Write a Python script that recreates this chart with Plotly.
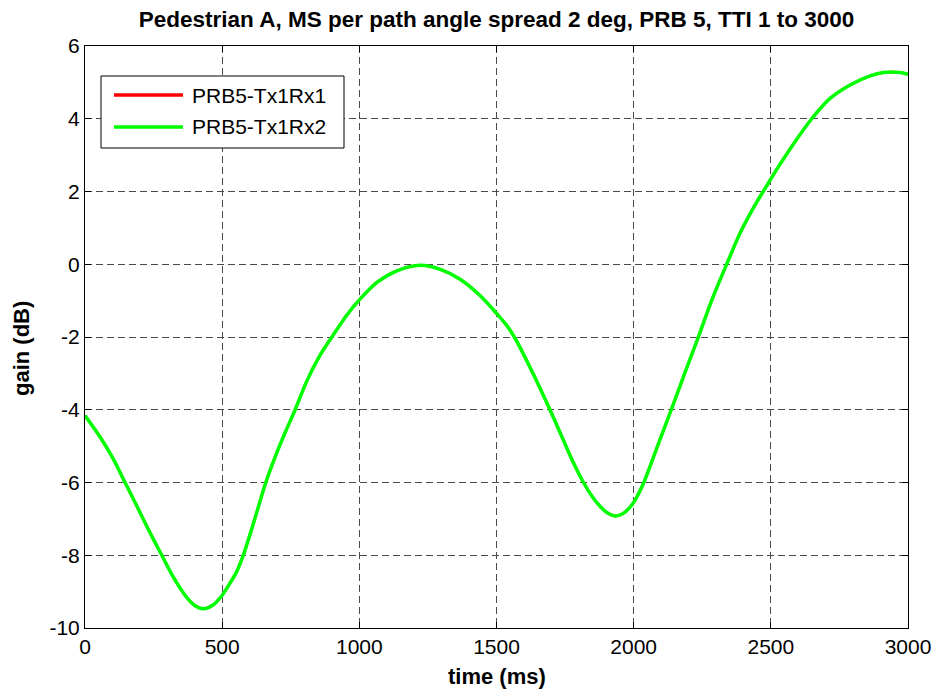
import plotly.graph_objects as go

# time (ms)
time_ms = [0, 55, 103, 146, 188, 225, 250, 280, 322, 370, 400, 431, 468, 500, 530, 553,
           577, 613, 659, 693, 730, 766, 808, 857, 900, 954, 1000, 1064, 1137, 1222, 1295,
           1367, 1440, 1500, 1537, 1565, 1622, 1695, 1744, 1780, 1817, 1850, 1878, 1905,
           1932, 1960, 1990, 2010, 2037, 2087, 2137, 2186, 2236, 2284, 2339, 2388, 2448,
           2478, 2521, 2582, 2649, 2716, 2789, 2862, 2910, 2971, 3000]

# gain (dB) for PRB5-Tx1Rx1
gain_rx1 = [-4.16, -4.75, -5.35, -6.0, -6.63, -7.2, -7.57, -8.0, -8.6, -9.15, -9.38, -9.47,
            -9.36, -9.1, -8.75, -8.45, -8.0, -7.15, -6.0, -5.3, -4.62, -4.0, -3.22, -2.5,
            -2.0, -1.4, -0.98, -0.5, -0.18, -0.03, -0.14, -0.41, -0.86, -1.35, -1.68, -2.0,
            -2.83, -4.0, -4.84, -5.45, -6.0, -6.4, -6.66, -6.84, -6.92, -6.86, -6.65, -6.42,
            -6.0, -5.0, -4.0, -3.0, -2.0, -1.0, 0.0, 0.86, 1.7, 2.07, 2.6, 3.3, 4.0, 4.56,
            4.93, 5.18, 5.27, 5.27, 5.22]

# gain (dB) for PRB5-Tx1Rx2
gain_rx2 = [-4.16, -4.75, -5.35, -6.0, -6.63, -7.2, -7.57, -8.0, -8.6, -9.15, -9.38, -9.47,
            -9.36, -9.1, -8.75, -8.45, -8.0, -7.15, -6.0, -5.3, -4.62, -4.0, -3.22, -2.5,
            -2.0, -1.4, -0.98, -0.5, -0.18, -0.03, -0.14, -0.41, -0.86, -1.35, -1.68, -2.0,
            -2.83, -4.0, -4.84, -5.45, -6.0, -6.4, -6.66, -6.84, -6.92, -6.86, -6.65, -6.42,
            -6.0, -5.0, -4.0, -3.0, -2.0, -1.0, 0.0, 0.86, 1.7, 2.07, 2.6, 3.3, 4.0, 4.56,
            4.93, 5.18, 5.27, 5.27, 5.22]

x_ticks = [0, 500, 1000, 1500, 2000, 2500, 3000]
y_ticks = [-10, -8, -6, -4, -2, 0, 2, 4, 6]

series_names = ["PRB5-Tx1Rx1", "PRB5-Tx1Rx2"]
series_colors = ["#ff0000", "#00ff00"]

FONT = "Liberation Sans, Arial, Helvetica, sans-serif"

# plot-area geometry (pixels)
W, H = 936, 692
L, R, T, B = 85, 28, 46, 64
PW, PH = W - L - R, H - T - B


def px_to_paper_x(px):
    return (px - L) / PW


def px_to_paper_y(py):
    return (H - B - py) / PH


fig = go.Figure()
fig.add_trace(go.Scatter(x=time_ms, y=gain_rx1, mode="lines", name=series_names[0],
                         line=dict(color=series_colors[0], width=2.5, shape="spline", smoothing=0.8)))
fig.add_trace(go.Scatter(x=time_ms, y=gain_rx2, mode="lines", name=series_names[1],
                         line=dict(color=series_colors[1], width=3.5, shape="spline", smoothing=0.8)))

axis_common = dict(
    showline=True, linecolor="black", linewidth=1, mirror="allticks",
    ticks="inside", ticklen=6, tickcolor="black", tickwidth=1,
    showgrid=True, gridcolor="#4a4a4a", gridwidth=1, griddash="7px,4px",
    zeroline=False, automargin=False,
    tickfont=dict(family=FONT, size=21, color="black"),
)

# manual legend (box, line samples, labels)
shapes = [dict(type="rect", xref="paper", yref="paper",
               x0=px_to_paper_x(101), x1=px_to_paper_x(344),
               y0=px_to_paper_y(148), y1=px_to_paper_y(76),
               line=dict(color="black", width=1), fillcolor="white", layer="above")]
annotations = []
legend_rows_py = [95, 127]
for name, color, py in zip(series_names, series_colors, legend_rows_py):
    shapes.append(dict(type="line", xref="paper", yref="paper",
                       x0=px_to_paper_x(114), x1=px_to_paper_x(183),
                       y0=px_to_paper_y(py), y1=px_to_paper_y(py),
                       line=dict(color=color, width=3.5), layer="above"))
    annotations.append(dict(text=name, xref="paper", yref="paper",
                            x=px_to_paper_x(190), y=px_to_paper_y(py),
                            xanchor="left", yanchor="middle", showarrow=False,
                            font=dict(family=FONT, size=21, color="black")))

# axis titles
annotations.append(dict(text="<b>time (ms)</b>", xref="paper", yref="paper",
                        x=0.5, y=px_to_paper_y(676), xanchor="center", yanchor="middle",
                        showarrow=False, font=dict(family=FONT, size=22, color="black")))
annotations.append(dict(text="<b>gain (dB)</b>", xref="paper", yref="paper",
                        x=px_to_paper_x(22), y=px_to_paper_y(349), xanchor="center", yanchor="middle",
                        textangle=-90, showarrow=False,
                        font=dict(family=FONT, size=22, color="black")))

fig.update_layout(
    width=W, height=H,
    margin=dict(l=L, r=R, t=T, b=B),
    paper_bgcolor="white", plot_bgcolor="white",
    font=dict(family=FONT, color="black"),
    title=dict(text="<b>Pedestrian A, MS per path angle spread 2 deg, PRB 5, TTI 1 to 3000</b>",
               x=(L + W - R) / 2 / W, xanchor="center", y=1 - 19 / H, yanchor="middle",
               font=dict(family=FONT, size=22.5, color="black")),
    xaxis=dict(range=[0, 3000], tickvals=x_ticks, ticktext=[str(v) for v in x_ticks],
               **axis_common),
    yaxis=dict(range=[-10, 6], tickvals=y_ticks, ticktext=[str(v) for v in y_ticks],
               **axis_common),
    shapes=shapes,
    annotations=annotations,
    showlegend=False,
)

fig.write_html("out.html")
